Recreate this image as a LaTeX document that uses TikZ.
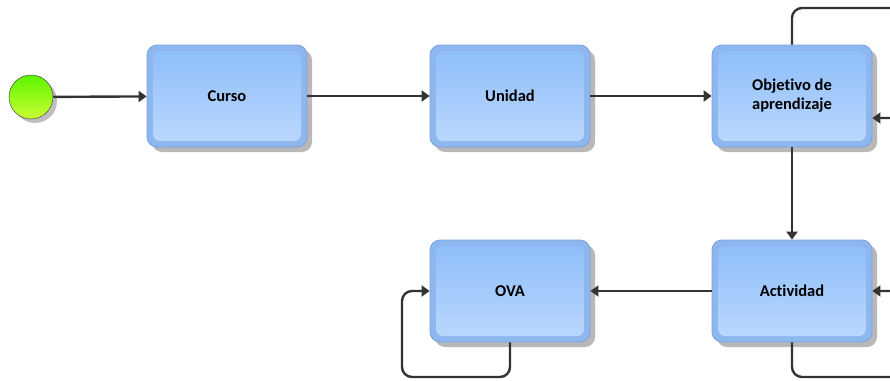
\documentclass[tikz,border=0pt]{standalone}
\usepackage{fontspec}
\setmainfont{Carlito}[Ligatures={NoCommon}]
\usetikzlibrary{arrows.meta,shadows}
\definecolor{boxtop}{HTML}{8CBDFA}
\definecolor{boxbot}{HTML}{BCD9FD}
\definecolor{boxrim}{HTML}{8DB7EE}
\definecolor{boxline}{HTML}{7AA3DD}
\definecolor{conncol}{HTML}{333333}
\definecolor{greentop}{HTML}{5CF500}
\definecolor{greenbot}{HTML}{CCFF33}
\tikzset{
  taskbox/.style={draw=boxline, line width=0.8pt, fill=boxrim, rounded corners=10pt,
    minimum width=160pt, minimum height=102pt, inner sep=0pt,
    font=\fontsize{16.5}{19}\selectfont\bfseries, align=center,
    drop shadow={shadow xshift=5pt, shadow yshift=-5pt, fill=black, opacity=0.28},
    path picture={\shade[top color=boxtop, bottom color=boxbot, rounded corners=7pt]
      ([shift={(6pt,-6pt)}]path picture bounding box.north west) rectangle
      ([shift={(-6pt,6pt)}]path picture bounding box.south east);}},
  startev/.style={circle, draw=black!70, line width=0.5pt, minimum size=44pt, inner sep=0pt,
    top color=greentop, bottom color=greenbot,
    drop shadow={shadow xshift=4pt, shadow yshift=-4pt, fill=black, opacity=0.25}},
  conn/.style={draw=conncol, line width=2.4pt, -{Triangle[length=8pt,width=11pt]}, rounded corners=10pt}
}
\begin{document}
\begin{tikzpicture}[x=1pt,y=-1pt]
\useasboundingbox (0,0) rectangle (890,380);
\clip (0,0) rectangle (890,380);
\fill[white] (0,0) rectangle (890,380);
\node[startev] (start) at (31,97) {};
\node[taskbox] (curso) at (227,96) {Curso};
\node[taskbox] (unidad) at (510,96) {Unidad};
\node[taskbox] (obj) at (792,96) {Objetivo de\\aprendizaje};
\node[taskbox] (act) at (792,291) {Actividad};
\node[taskbox] (ova) at (510,291) {OVA};
\coordinate (r1) at (910,8);
\coordinate (r2) at (910,118);
\coordinate (r3) at (910,377);
\coordinate (r4) at (910,291);
\coordinate (o1) at (402,377);
\draw[conn] (start) -- (curso);
\draw[conn] (curso) -- (unidad);
\draw[conn] (unidad) -- (obj);
\draw[conn] (obj) -- (act);
\draw[conn] (act) -- (ova);
\draw[conn] (obj.north) |- (r1) -- (r2) -- (r2 -| obj.east);
\draw[conn] (act.south) |- (r3) -- (r4) -- (act.east);
\draw[conn] (ova.south) |- (o1) |- (ova.west);
\end{tikzpicture}
\end{document}
